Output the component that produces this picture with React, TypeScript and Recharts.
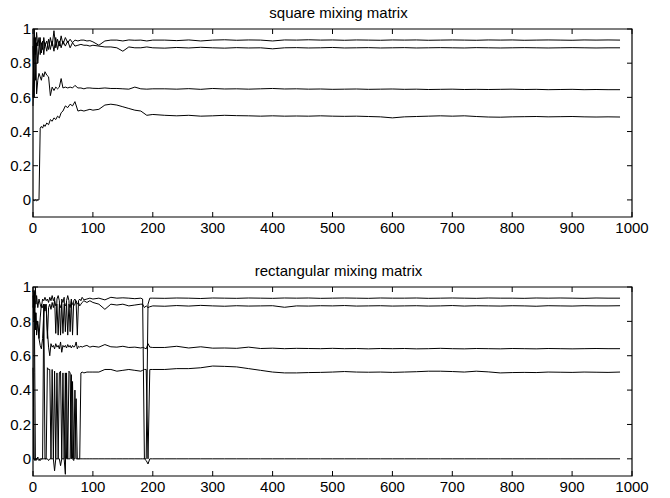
import { LineChart, Line, XAxis, YAxis, ReferenceArea } from 'recharts';

// shared sampling for the settled part of both runs
const TAIL_X = [
  220, 240, 260, 280, 300, 320, 340, 360, 380, 400, 420, 440, 460, 480, 500, 520, 540, 560, 580, 600,
  620, 640, 660, 680, 700, 720, 740, 760, 780, 800, 820, 840, 860, 880, 900, 920, 940, 960, 980,
];

// ---- square mixing matrix ----
const SQ_X = [
  0, 2, 4, 6, 8, 10, 12, 14, 16, 18, 20,
  23, 26, 29, 32, 35, 38, 41, 44, 47, 50,
  54, 58, 62, 66, 70,
  75, 80, 85, 90, 95, 100,
  110, 120, 130, 140, 150, 160, 170, 180, 190, 200,
  ...TAIL_X,
];
const SQ_A = [
  0.6, 1.0, 0.85, 0.98, 0.9, 0.95, 0.85, 0.92, 0.88, 0.95, 0.9,
  0.93, 0.88, 0.95, 0.9, 0.99, 0.89, 0.94, 0.9, 0.96, 0.91,
  0.95, 0.92, 0.94, 0.92, 0.935,
  0.93, 0.935, 0.935, 0.93, 0.932, 0.925,
  0.905, 0.93, 0.935, 0.935, 0.93, 0.936, 0.934, 0.935, 0.93, 0.935,
  0.935, 0.932, 0.936, 0.93, 0.935, 0.937, 0.934, 0.936, 0.935, 0.93,
  0.936, 0.935, 0.937, 0.935, 0.936, 0.934, 0.936, 0.935, 0.934, 0.936,
  0.935, 0.936, 0.934, 0.935, 0.936, 0.935, 0.934, 0.936, 0.935, 0.936,
  0.934, 0.935, 0.936, 0.935, 0.934, 0.936, 0.935, 0.936, 0.935,
];
const SQ_B = [
  0.55, 0.95, 0.7, 0.92, 0.8, 0.9, 0.95, 0.86, 0.93, 0.85, 0.92,
  0.87, 0.94, 0.88, 0.93, 0.87, 0.95, 0.88, 0.93, 0.89, 0.93,
  0.9, 0.93, 0.89, 0.92, 0.9,
  0.905, 0.91, 0.905, 0.905, 0.9, 0.905,
  0.9, 0.895, 0.895, 0.89, 0.87, 0.895, 0.89, 0.89, 0.895, 0.89,
  0.888, 0.892, 0.889, 0.893, 0.89, 0.888, 0.891, 0.889, 0.89, 0.884,
  0.89, 0.891, 0.889, 0.89, 0.892, 0.889, 0.89, 0.891, 0.889, 0.89,
  0.891, 0.889, 0.89, 0.891, 0.89, 0.889, 0.891, 0.89, 0.889, 0.89,
  0.891, 0.89, 0.889, 0.89, 0.891, 0.89, 0.889, 0.89, 0.89,
];
const SQ_C = [
  0.9, 0.6, 0.95, 0.62, 0.7, 0.74, 0.72, 0.7, 0.74, 0.72, 0.75,
  0.73, 0.72, 0.61, 0.66, 0.64, 0.66, 0.65, 0.66, 0.71, 0.655,
  0.66, 0.655, 0.66, 0.655, 0.67,
  0.655, 0.655, 0.65, 0.655, 0.655, 0.653,
  0.652, 0.655, 0.652, 0.652, 0.65, 0.648, 0.66, 0.65, 0.648, 0.65,
  0.65, 0.648, 0.651, 0.647, 0.652, 0.649, 0.65, 0.648, 0.65, 0.652,
  0.649, 0.65, 0.648, 0.649, 0.647, 0.648, 0.649, 0.647, 0.648, 0.649,
  0.647, 0.648, 0.646, 0.647, 0.648, 0.646, 0.647, 0.646, 0.647, 0.648,
  0.646, 0.647, 0.645, 0.646, 0.647, 0.645, 0.646, 0.645, 0.645,
];
const SQ_D = [
  0, -0.005, 0, -0.005, 0, 0, 0.42, 0.43, 0.42, 0.44, 0.43,
  0.45, 0.44, 0.47, 0.46, 0.48, 0.47, 0.49, 0.48, 0.51, 0.52,
  0.55, 0.54, 0.56, 0.55, 0.575,
  0.52, 0.525, 0.52, 0.525, 0.53, 0.525,
  0.53, 0.555, 0.56, 0.555, 0.545, 0.535, 0.525, 0.52, 0.495, 0.5,
  0.495, 0.492, 0.495, 0.49, 0.492, 0.495, 0.493, 0.492, 0.49, 0.492,
  0.49, 0.491, 0.49, 0.492, 0.49, 0.489, 0.49, 0.488, 0.486, 0.48,
  0.486, 0.488, 0.49, 0.492, 0.49, 0.492, 0.488, 0.485, 0.484, 0.486,
  0.487, 0.488, 0.486, 0.487, 0.488, 0.486, 0.485, 0.486, 0.485,
];

// ---- rectangular mixing matrix ----
const RE_X = [
  0, 1, 2, 3, 4, 5, 6,
  8, 10, 12, 14, 16, 18, 20, 22, 24, 26,
  28, 30, 32, 34, 36, 38, 40, 42, 44, 46,
  48, 50, 52, 54, 56, 58, 60, 62, 64, 66,
  68, 70, 72, 74, 76, 78, 80, 82,
  85, 90, 95, 100,
  110, 120, 130, 140, 150, 160, 170, 180,
  183, 186, 189, 192, 195, 200,
  ...TAIL_X,
];
const RE_A = [
  0.98, 0.85, 0.97, 0.88, 1.0, 0.9, 0.95,
  0.88, 0.93, 0.9, 0.88, 0.93, 0.92, 0.94, 0.92, 0.93, 0.91,
  0.94, 0.92, 0.95, 0.92, 0.94, 0.73, 0.93, 0.95, 0.92, 0.72,
  0.93, 0.91, 0.94, 0.74, 0.92, 0.95, 0.92, 0.74, 0.93, 0.72,
  0.92, 0.93, 0.91, 0.72, 0.92, 0.93, 0.92, 0.94,
  0.925, 0.93, 0.935, 0.93,
  0.935, 0.925, 0.94, 0.935, 0.937, 0.935, 0.932, 0.935,
  0.93, 0, -0.01, -0.03, 0, 0,
  0, 0, 0, 0, 0, 0, 0, 0, 0, 0,
  0, 0, 0, 0, 0, 0, 0, 0, 0, 0,
  0, 0, 0, 0, 0, 0, 0, 0, 0, 0,
  0, 0, 0, 0, 0, 0, 0, 0, 0,
];
const RE_B = [
  0.88, 0.95, 0.8, 0.92, 0.75, 0.85, 0.72,
  0.8, 0.7, 0.82, 0.9, 0.88, 0.9, 0.86, 0.9, 0.7, 0.88,
  0.9, 0.87, 0.91, 0.88, 0.92, 0.89, 0.9, 0.72, 0.9, 0.88,
  0.91, 0.73, 0.9, 0.89, 0.91, 0.72, 0.9, 0.88, 0.92, 0.9,
  0.89, 0.9, 0.92, 0.9, 0.91, 0.89, 0.9, 0.91,
  0.92, 0.91, 0.92, 0.91,
  0.9, 0.87, 0.9, 0.895, 0.9, 0.89, 0.895, 0.9,
  0.9, 0.88, 0.89, 0.88, 0.885, 0.89,
  0.888, 0.892, 0.889, 0.893, 0.89, 0.888, 0.891, 0.889, 0.89, 0.891,
  0.882, 0.89, 0.889, 0.891, 0.89, 0.892, 0.889, 0.89, 0.891, 0.889,
  0.89, 0.891, 0.889, 0.89, 0.892, 0.889, 0.891, 0.89, 0.889, 0.891,
  0.89, 0.888, 0.891, 0.89, 0.889, 0.891, 0.89, 0.89, 0.891,
];
const RE_C = [
  0.95, 0.9, 0.82, 0.8, 0.85, 0.78, 0.8,
  0.78, 0.7, 0.66, 0.64, 0.7, 0.85, 0.9, 0.88, 0.75, 0.65,
  0.6, 0.67, 0.65, 0.66, 0.64, 0.67, 0.65, 0.66, 0.64, 0.68,
  0.62, 0.66, 0.65, 0.66, 0.645, 0.665, 0.65, 0.66, 0.645, 0.66,
  0.65, 0.655, 0.68, 0.64, 0.655, 0.65, 0.655, 0.65,
  0.655, 0.66, 0.65, 0.655,
  0.65, 0.665, 0.652, 0.65, 0.655, 0.648, 0.65, 0.645,
  0.648, 0.645, 0.64, 0.67, 0.65, 0.648,
  0.648, 0.655, 0.645, 0.652, 0.644, 0.645, 0.643, 0.65, 0.642, 0.644,
  0.641, 0.643, 0.642, 0.641, 0.643, 0.641, 0.642, 0.64, 0.642, 0.641,
  0.642, 0.64, 0.641, 0.643, 0.641, 0.64, 0.642, 0.641, 0.64, 0.642,
  0.641, 0.64, 0.642, 0.641, 0.64, 0.641, 0.642, 0.641, 0.641,
];
const RE_D = [
  0.53, 0.3, 0, -0.01, 0, 0, 0,
  0.01, 0, -0.01, 0, 0, 0, 0, 0, 0.53, 0.52,
  0.52, 0, 0, 0, 0.51, 0, 0, 0, 0.5, 0.51,
  0, 0, 0, 0.5, 0, 0, 0.51, 0.5, 0, 0.45,
  0, 0, 0.35, 0, 0, 0, 0.5, 0.505,
  0.5, 0.505, 0.505, 0.505,
  0.505, 0.52, 0.52, 0.51, 0.515, 0.52, 0.515, 0.51,
  0.515, 0.52, 0.52, 0, 0.52, 0.52,
  0.52, 0.525, 0.525, 0.53, 0.54, 0.538, 0.535, 0.525, 0.515, 0.505,
  0.5, 0.5, 0.502, 0.503, 0.505, 0.508, 0.505, 0.504, 0.505, 0.503,
  0.505, 0.507, 0.51, 0.51, 0.508, 0.505, 0.51, 0.506, 0.5, 0.502,
  0.503, 0.502, 0.505, 0.504, 0.503, 0.505, 0.504, 0.503, 0.505,
];
const RE_E = [
  0, 0, 0.98, 0.5, 0, -0.01, 0,
  0, -0.01, 0, 0, 0, 0.9, 0, 0, 0, -0.01,
  0, 0, 0.52, 0, -0.07, 0, 0.5, 0, 0, -0.04,
  0, 0.5, 0, -0.09, 0.5, 0, 0, 0, 0.49, 0,
  -0.01, 0.4, 0, 0, 0, 0, 0, 0,
  0, 0, 0, 0,
  0, 0, 0, 0, 0, 0, 0, 0,
  0, 0, 0, 0.9, 0.935, 0.935,
  0.934, 0.936, 0.935, 0.933, 0.936, 0.935, 0.934, 0.936, 0.935, 0.934,
  0.936, 0.935, 0.936, 0.934, 0.935, 0.936, 0.935, 0.934, 0.936, 0.935,
  0.935, 0.936, 0.934, 0.935, 0.936, 0.935, 0.934, 0.936, 0.935, 0.935,
  0.934, 0.936, 0.935, 0.936, 0.935, 0.934, 0.936, 0.935, 0.935,
];

const X_TICKS = [0, 100, 200, 300, 400, 500, 600, 700, 800, 900, 1000];
const Y_TICKS = [0, 0.2, 0.4, 0.6, 0.8, 1];

const FONT = '"Liberation Sans", Arial, Helvetica, sans-serif';
const W = 670;
const H = 249;
const LEFT = 33;
const RIGHT = 632;
const TICK = 5;

const toRows = (xs: number[], series: Record<string, number[]>) =>
  xs.map((x, i) => {
    const row: Record<string, number> = { x };
    for (const k of Object.keys(series)) row[k] = series[k][i];
    return row;
  });

interface PanelProps {
  title: string;
  xs: number[];
  series: Record<string, number[]>;
  top: number;
  axisHeight: number;
}

function Panel({ title, xs, series, top, axisHeight }: PanelProps) {
  const rows = toRows(xs, series);
  const bottom = H - axisHeight;

  const xTick = (p: any) => (
    <g>
      <line x1={p.x} x2={p.x} y1={bottom} y2={bottom - TICK} stroke="#000" />
      <line x1={p.x} x2={p.x} y1={top} y2={top + TICK} stroke="#000" />
      <text x={p.x} y={bottom + 16} textAnchor="middle" fontSize={15} fontFamily={FONT} fill="#000">
        {p.payload.value}
      </text>
    </g>
  );

  const yTick = (p: any) => (
    <g>
      <line x1={LEFT} x2={LEFT + TICK} y1={p.y} y2={p.y} stroke="#000" />
      <line x1={RIGHT} x2={RIGHT - TICK} y1={p.y} y2={p.y} stroke="#000" />
      <text x={31} y={p.y} dy={5.3} textAnchor="end" fontSize={15} fontFamily={FONT} fill="#000">
        {String(p.payload.value)}
      </text>
    </g>
  );

  return (
    <div style={{ position: 'relative', width: W, height: H }}>
      <LineChart width={W} height={H} data={rows} margin={{ top, right: W - RIGHT, bottom: 0, left: 0 }}>
        <XAxis
          type="number"
          dataKey="x"
          domain={[0, 1000]}
          ticks={X_TICKS}
          interval={0}
          height={axisHeight}
          axisLine={false}
          tickLine={false}
          tick={xTick}
        />
        <YAxis
          type="number"
          domain={[-0.1, 1]}
          ticks={Y_TICKS}
          interval={0}
          width={LEFT}
          axisLine={false}
          tickLine={false}
          allowDataOverflow
          tick={yTick}
        />
        <ReferenceArea x1={0} x2={1000} y1={-0.1} y2={1} fill="none" fillOpacity={0} stroke="#000" strokeWidth={1.2} />
        {Object.keys(series).map(k => (
          <Line
            key={k}
            type="linear"
            dataKey={k}
            stroke="#000"
            strokeWidth={1}
            dot={false}
            isAnimationActive={false}
          />
        ))}
      </LineChart>
      <svg width={W} height={H} style={{ position: 'absolute', left: 0, top: 0, pointerEvents: 'none' }}>
        <text x={338.5} y={top - 11} textAnchor="middle" fontSize={15} fontFamily={FONT} fill="#000">
          {title}
        </text>
      </svg>
    </div>
  );
}

export default function App() {
  return (
    <div style={{ position: 'absolute', left: 0, top: 0, width: 670, height: 498, background: '#fff' }}>
      <Panel
        title="square mixing matrix"
        xs={SQ_X}
        series={{ a: SQ_A, b: SQ_B, c: SQ_C, d: SQ_D }}
        top={29}
        axisHeight={32}
      />
      <Panel
        title="rectangular mixing matrix"
        xs={RE_X}
        series={{ a: RE_A, b: RE_B, c: RE_C, d: RE_D, e: RE_E }}
        top={38}
        axisHeight={22}
      />
    </div>
  );
}
